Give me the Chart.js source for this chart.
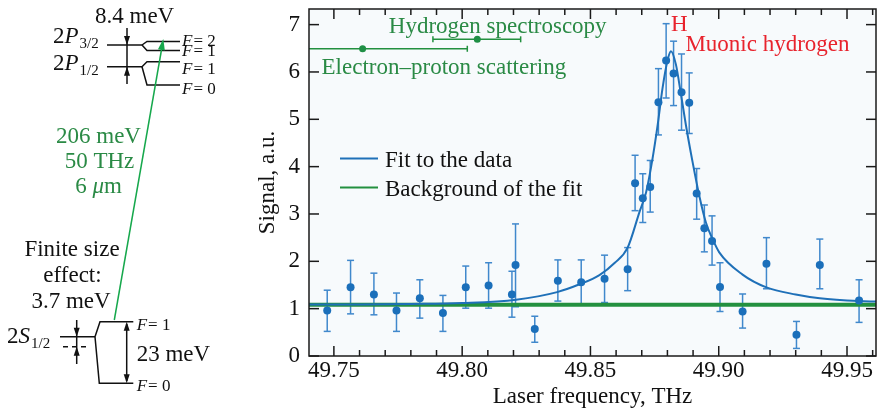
<!DOCTYPE html>
<html>
<head>
<meta charset="utf-8">
<script src="https://cdn.jsdelivr.net/npm/chart.js@4.4.1/dist/chart.umd.min.js"></script>
<style>
html, body { margin: 0; padding: 0; background: #fff; }
#wrap { width: 880px; height: 412px; }
</style>
</head>
<body>
<div id="wrap"><canvas id="chart" width="880" height="412"></canvas></div>
<script>
// measured points (laser frequency THz, signal a.u.) with error bar ends
const freq = [49.7474, 49.7565, 49.7656, 49.7744, 49.7835, 49.7925, 49.8014, 49.8103,
  49.8194, 49.8208, 49.8283, 49.8373, 49.8464, 49.8555, 49.8645, 49.8674, 49.8704,
  49.8733, 49.8765, 49.8795, 49.8824, 49.8855, 49.8885, 49.8914, 49.8944, 49.8974,
  49.9005, 49.9093, 49.9186, 49.9303, 49.9394, 49.9547];
const signal = [0.96, 1.45, 1.30, 0.96, 1.22, 0.91, 1.45, 1.49, 1.30, 1.92, 0.57, 1.59,
  1.56, 1.63, 1.83, 3.65, 3.33, 3.57, 5.36, 6.24, 5.97, 5.57, 5.35, 3.43, 2.70, 2.43,
  1.46, 0.94, 1.95, 0.45, 1.92, 1.17];
const errLow = [0.52, 0.89, 0.87, 0.52, 0.80, 0.52, 1.01, 1.01, 0.82, 1.04, 0.29, 1.16,
  1.09, 1.13, 1.38, 3.07, 2.82, 3.04, 4.67, 5.45, 5.29, 4.77, 4.70, 2.89, 2.20, 1.92,
  0.94, 0.59, 1.42, 0.16, 1.42, 0.71];
const errHigh = [1.39, 2.02, 1.75, 1.33, 1.61, 1.28, 1.90, 1.97, 1.79, 2.79, 0.84, 2.03,
  2.03, 2.13, 2.29, 4.24, 3.85, 4.13, 6.07, 7.02, 6.65, 6.38, 5.98, 3.96, 3.19, 2.96,
  1.97, 1.31, 2.50, 0.73, 2.47, 1.61];

// fit curve
const fitFreq = [49.7403, 49.760, 49.780, 49.800, 49.821, 49.837, 49.846, 49.8535,
  49.8595, 49.8645, 49.8691, 49.8717, 49.8742, 49.8762, 49.8781, 49.8801, 49.8814,
  49.8833, 49.8853, 49.8872, 49.8898, 49.8924, 49.8950, 49.8976, 49.9002, 49.9093,
  49.9186, 49.930, 49.9394, 49.9547, 49.9613];
const fitSignal = [1.09, 1.09, 1.10, 1.12, 1.19, 1.35, 1.52, 1.71, 1.97, 2.29, 3.04,
  3.46, 4.17, 4.88, 5.66, 6.26, 6.44, 6.16, 5.52, 4.88, 4.10, 3.39, 2.82, 2.47, 2.19,
  1.72, 1.45, 1.30, 1.22, 1.16, 1.15];

const bgFreq = [49.7403, 49.9613];
const bgSignal = [1.08, 1.08];

// electron-proton scattering, hydrogen spectroscopy
const refNames = ['Electron\u2013proton scattering', 'Hydrogen spectroscopy'];
const refFreq = [49.7612, 49.8059];
const refSignal = [6.49, 6.69];
const refLow = [49.7204, 49.7886];
const refHigh = [49.8020, 49.8228];

const xTickValues = [49.75, 49.80, 49.85, 49.90, 49.95];
const xTickLabels = ['49.75', '49.80', '49.85', '49.90', '49.95'];
const xMinorValues = [49.76, 49.77, 49.78, 49.79, 49.81, 49.82, 49.83, 49.84, 49.86,
  49.87, 49.88, 49.89, 49.91, 49.92, 49.93, 49.94, 49.96];
const yTickValues = [0, 1, 2, 3, 4, 5, 6, 7];
const yTickLabels = ['0', '1', '2', '3', '4', '5', '6', '7'];

const SERIF = '"Liberation Serif", "Times New Roman", serif';
const BLUE = '#1b6fba';
const ERRBLUE = '#4088cc';
const GREEN = '#23903f';
const TEXTGREEN = '#2a8a45';
const RED = '#e8232d';

function pts(xs, ys) { return xs.map((x, i) => ({ x: x, y: ys[i] })); }

function arrowHead(ctx, x, y, dx, dy, len, wid) {
  const l = Math.hypot(dx, dy);
  const ux = dx / l, uy = dy / l;
  ctx.beginPath();
  ctx.moveTo(x, y);
  ctx.lineTo(x - ux * len - uy * wid / 2, y - uy * len + ux * wid / 2);
  ctx.lineTo(x - ux * len + uy * wid / 2, y - uy * len - ux * wid / 2);
  ctx.closePath();
  ctx.fill();
}

function runs(ctx, x, y, parts) {
  let cx = x;
  parts.forEach(p => {
    ctx.font = p[1];
    ctx.fillText(p[0], cx, y + (p[2] || 0));
    cx += ctx.measureText(p[0]).width + (p[3] || 0);
  });
}

function line(ctx, coords) {
  ctx.beginPath();
  ctx.moveTo(coords[0], coords[1]);
  for (let i = 2; i < coords.length; i += 2) ctx.lineTo(coords[i], coords[i + 1]);
  ctx.stroke();
}

const decor = {
  id: 'decor',
  beforeDraw(chart) {
    const a = chart.chartArea, ctx = chart.ctx;
    ctx.save();
    ctx.fillStyle = '#f7fafc';
    ctx.fillRect(a.left, a.top, a.right - a.left, a.bottom - a.top);
    ctx.restore();
  },
  beforeDatasetsDraw(chart) {
    const a = chart.chartArea, ctx = chart.ctx;
    const xs = chart.scales.x, ys = chart.scales.y;
    ctx.save();
    ctx.beginPath();
    ctx.rect(a.left, a.top, a.right - a.left, a.bottom - a.top);
    ctx.clip();
    ctx.strokeStyle = ERRBLUE;
    ctx.lineWidth = 1.5;
    freq.forEach((f, i) => {
      const px = xs.getPixelForValue(f);
      const p1 = ys.getPixelForValue(errLow[i]);
      const p2 = ys.getPixelForValue(errHigh[i]);
      line(ctx, [px, p1, px, p2]);
      line(ctx, [px - 3.5, p1, px + 3.5, p1]);
      line(ctx, [px - 3.5, p2, px + 3.5, p2]);
    });
    ctx.strokeStyle = GREEN;
    refFreq.forEach((f, i) => {
      const py = ys.getPixelForValue(refSignal[i]);
      const p1 = xs.getPixelForValue(refLow[i]);
      const p2 = xs.getPixelForValue(refHigh[i]);
      line(ctx, [p1, py, p2, py]);
      line(ctx, [p1, py - 3, p1, py + 3]);
      line(ctx, [p2, py - 3, p2, py + 3]);
    });
    ctx.restore();
  },
  afterDraw(chart) {
    const a = chart.chartArea, ctx = chart.ctx;
    const xs = chart.scales.x, ys = chart.scales.y;
    ctx.save();
    // frame and inward ticks
    ctx.strokeStyle = '#1a1a1a';
    ctx.lineWidth = 1.5;
    ctx.strokeRect(a.left, a.top, a.right - a.left, a.bottom - a.top);
    xTickValues.forEach(v => {
      const px = xs.getPixelForValue(v);
      line(ctx, [px, a.bottom, px, a.bottom - 10]);
      line(ctx, [px, a.top, px, a.top + 10]);
    });
    xMinorValues.forEach(v => {
      const px = xs.getPixelForValue(v);
      line(ctx, [px, a.bottom, px, a.bottom - 6]);
      line(ctx, [px, a.top, px, a.top + 6]);
    });
    yTickValues.forEach(v => {
      const py = ys.getPixelForValue(v);
      line(ctx, [a.left, py, a.left + 10, py]);
      line(ctx, [a.right, py, a.right - 10, py]);
    });

    // legend
    const f23 = '23px ' + SERIF;
    ctx.font = f23;
    ctx.textBaseline = 'alphabetic';
    ctx.textAlign = 'left';
    [[chart.data.datasets[1], 166.5], [chart.data.datasets[0], 195.5]].forEach(([ds, by]) => {
      ctx.strokeStyle = ds.borderColor;
      ctx.lineWidth = 2;
      line(ctx, [340, by - 8, 378, by - 8]);
      ctx.fillStyle = '#111';
      ctx.fillText(ds.label, 385, by);
    });

    // annotations
    ctx.fillStyle = TEXTGREEN;
    ctx.fillText(refNames[1], xs.getPixelForValue(49.7714), ys.getPixelForValue(6.83));
    ctx.fillText(refNames[0], xs.getPixelForValue(49.7452), ys.getPixelForValue(5.96));
    ctx.fillStyle = RED;
    ctx.fillText('H', xs.getPixelForValue(49.8814), ys.getPixelForValue(6.87));
    ctx.fillText('Muonic hydrogen', xs.getPixelForValue(49.8870), ys.getPixelForValue(6.44));

    // energy level diagram
    const it23 = 'italic 23px ' + SERIF;
    const s15 = '15px ' + SERIF;
    const f17 = '17px ' + SERIF;
    const it17 = 'italic 17px ' + SERIF;
    ctx.fillStyle = '#111';
    ctx.strokeStyle = '#111';
    ctx.lineWidth = 1.5;
    ctx.font = f23;
    ctx.fillText('8.4 meV', 95, 23);
    runs(ctx, 53, 43.3, [['2', f23], ['P', it23, 0, 1], ['3/2', s15, 5]]);
    runs(ctx, 53, 70, [['2', f23], ['P', it23, 0, 1], ['1/2', s15, 5]]);
    line(ctx, [107, 45, 142, 45]);
    line(ctx, [142, 45, 147, 41.5, 180, 41.5]);
    line(ctx, [142, 45, 147, 50.5, 180, 50.5]);
    line(ctx, [107, 66.7, 142, 66.7]);
    line(ctx, [142, 66.7, 147, 61.7, 180, 61.7]);
    line(ctx, [142, 66.7, 147, 85, 180, 85]);
    line(ctx, [127, 28, 127, 84]);
    arrowHead(ctx, 127, 45, 0, 1, 9, 6);
    arrowHead(ctx, 127, 66.7, 0, -1, 9, 6);
    ctx.fillStyle = '#111';
    [['2', 45.7], ['1', 56], ['1', 74], ['0', 94]].forEach(([n, by]) => {
      runs(ctx, 182, by, [['F', it17, 0, 1], ['= ' + n, f17]]);
    });

    // transition arrow
    ctx.strokeStyle = '#16a84c';
    ctx.fillStyle = '#16a84c';
    line(ctx, [114.3, 320, 162.5, 44]);
    arrowHead(ctx, 163.3, 39, 0.172, -0.985, 11, 7);
    ctx.fillStyle = TEXTGREEN;
    ctx.textAlign = 'center';
    ctx.font = f23;
    ctx.fillText('206 meV', 98.5, 143);
    ctx.fillText('50 THz', 99.5, 168);
    ctx.textAlign = 'left';
    const w6 = (() => { ctx.font = f23; const a1 = ctx.measureText('6 ').width; ctx.font = it23; const a2 = ctx.measureText('\u03bc').width; ctx.font = f23; return a1 + a2 + ctx.measureText('m').width; })();
    runs(ctx, 98.5 - w6 / 2, 193, [['6 ', f23], ['\u03bc', it23], ['m', f23]]);

    // finite size block
    ctx.fillStyle = '#111';
    ctx.strokeStyle = '#111';
    ctx.textAlign = 'center';
    ctx.font = f23;
    ctx.fillText('Finite size', 72, 256);
    ctx.fillText('effect:', 72.5, 281.7);
    ctx.fillText('3.7 meV', 71, 308.3);
    ctx.textAlign = 'left';
    runs(ctx, 7, 343.3, [['2', f23], ['S', it23, 0, 1], ['1/2', s15, 5]]);
    line(ctx, [60, 336.7, 95, 336.7]);
    ctx.setLineDash([5, 4]);
    line(ctx, [63, 346.7, 89, 346.7]);
    ctx.setLineDash([]);
    line(ctx, [76.7, 320, 76.7, 364]);
    arrowHead(ctx, 76.7, 336.7, 0, 1, 9, 6);
    arrowHead(ctx, 76.7, 346.7, 0, -1, 9, 6);
    line(ctx, [95, 336.7, 100, 321.7, 133.3, 321.7]);
    line(ctx, [95, 336.7, 99.3, 383.3, 133.3, 383.3]);
    line(ctx, [126.7, 324, 126.7, 381]);
    arrowHead(ctx, 126.7, 321.7, 0, -1, 9, 6);
    arrowHead(ctx, 126.7, 383.3, 0, 1, 9, 6);
    ctx.font = f23;
    ctx.fillText('23 meV', 136.7, 360.7);
    runs(ctx, 136.7, 330, [['F', it17, 0, 1], ['= 1', f17]]);
    runs(ctx, 136.7, 390.7, [['F', it17, 0, 1], ['= 0', f17]]);
    ctx.restore();
  }
};

new Chart(document.getElementById('chart').getContext('2d'), {
  type: 'scatter',
  data: {
    datasets: [{
      type: 'line',
      label: 'Background of the fit',
      data: pts(bgFreq, bgSignal),
      borderColor: GREEN,
      borderWidth: 4,
      pointRadius: 0,
      order: 2
    }, {
      type: 'line',
      label: 'Fit to the data',
      data: pts(fitFreq, fitSignal),
      borderColor: '#1f70b8',
      borderWidth: 2,
      pointRadius: 0,
      cubicInterpolationMode: 'monotone',
      order: 1
    }, {
      label: 'Data',
      data: pts(freq, signal),
      backgroundColor: BLUE,
      borderWidth: 0,
      pointRadius: 4,
      order: 0
    }, {
      label: 'References',
      data: pts(refFreq, refSignal),
      backgroundColor: '#1f8f45',
      borderWidth: 0,
      pointRadius: 3.5,
      order: 0
    }]
  },
  options: {
    responsive: false,
    animation: false,
    layout: { padding: { left: 250, right: 4, top: 9, bottom: 0 } },
    plugins: { legend: { display: false }, tooltip: { enabled: false } },
    scales: {
      x: {
        type: 'linear',
        min: 49.7403,
        max: 49.9613,
        grid: { display: false, drawTicks: false },
        border: { display: false },
        afterBuildTicks: s => { s.ticks = xTickValues.map(v => ({ value: v })); },
        afterFit: s => { s.height = 56; s.paddingLeft = 0; s.paddingRight = 0; },
        ticks: {
          callback: (v, i) => xTickLabels[i],
          font: { family: SERIF, size: 23 },
          color: '#111',
          padding: 1,
          maxRotation: 0,
          autoSkip: false
        },
        title: {
          display: true,
          text: 'Laser frequency, THz',
          font: { family: SERIF, size: 23 },
          color: '#111',
          padding: { top: 0, bottom: 1 }
        }
      },
      y: {
        min: 0,
        max: 7.33,
        grid: { display: false, drawTicks: false },
        border: { display: false },
        afterBuildTicks: s => { s.ticks = yTickValues.map(v => ({ value: v })); },
        afterFit: s => { s.width = 59; s.paddingTop = 0; s.paddingBottom = 0; },
        ticks: {
          callback: (v, i) => yTickLabels[i],
          font: { family: SERIF, size: 23 },
          color: '#111',
          padding: 9
        },
        title: {
          display: true,
          text: 'Signal, a.u.',
          font: { family: SERIF, size: 23 },
          color: '#111',
          padding: { top: 4, bottom: 0 }
        }
      }
    }
  },
  plugins: [decor]
});
</script>
</body>
</html>
